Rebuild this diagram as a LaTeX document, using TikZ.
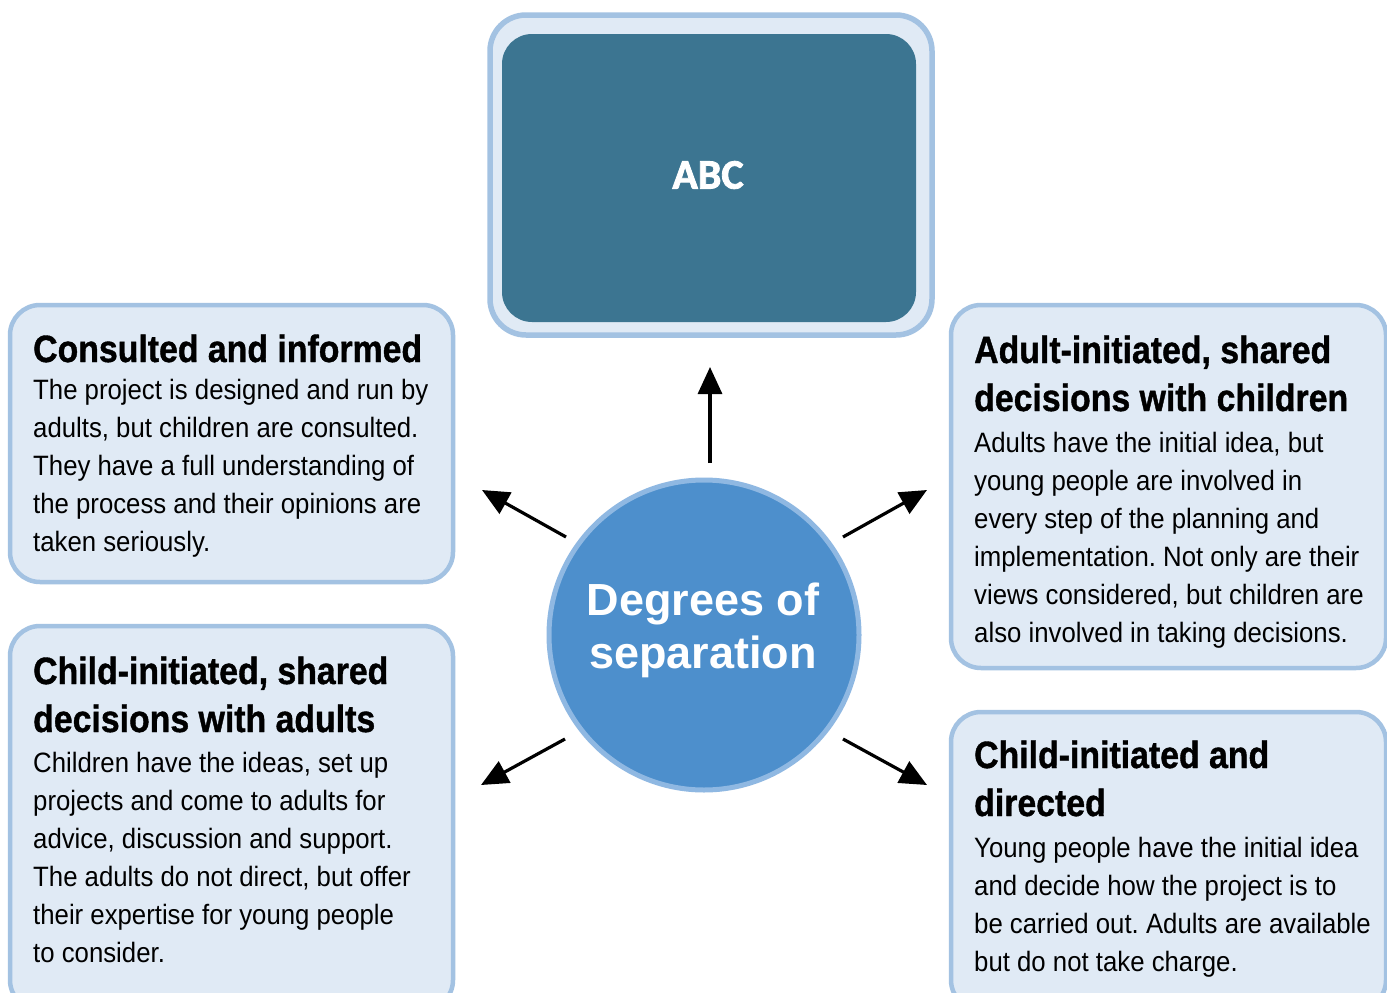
\documentclass[tikz,border=0pt]{standalone}
\usepackage{fontspec}
\setmainfont{Liberation Sans}
\newfontfamily\condfont{Liberation Sans}[FakeStretch=0.92]
\newfontfamily\titlefont{Liberation Sans Bold}[FakeStretch=0.89, FakeBold=1]
\newfontfamily\abcfont{Carlito Bold}[FakeBold=2]
\usetikzlibrary{arrows.meta}
\definecolor{boxfill}{HTML}{E0EAF5}
\definecolor{boxline}{HTML}{A3C2E2}
\definecolor{darkbox}{HTML}{3C7591}
\definecolor{circfill}{HTML}{4D8FCC}
\definecolor{circline}{HTML}{8FB8E2}
\frenchspacing
\begin{document}
\begin{tikzpicture}[x=1pt,y=-1pt,
  panel/.style={draw=boxline, fill=boxfill, line width=4.5pt, rounded corners=30pt, rectangle, inner sep=0pt},
  ttl/.style={anchor=base west, inner sep=0pt, align=left, font=\titlefont\fontsize{38}{48}\selectfont},
  bdy/.style={anchor=base west, inner sep=0pt, align=left, font=\condfont\fontsize{28}{38}\selectfont},
  arr/.style={-{Triangle[length=27pt,width=24pt]}, line width=3.2pt, black}]
\fill[white] (0,0) rectangle (1387,993);
\useasboundingbox (0,0) rectangle (1387,993);
\clip (0,0) rectangle (1387,993);

% top box
\node[panel, line width=5.5pt, rounded corners=36pt, minimum width=442pt, minimum height=320pt] (top) at (711,175) {};
\node[fill=darkbox, rounded corners=30pt, minimum width=414pt, minimum height=288pt, inner sep=0pt] (topin) at (709,178) {};
\node[text=white, font=\abcfont\fontsize{42}{48}\selectfont, inner sep=0pt] (abc) at (708,175) {ABC};

% panels
\node[panel, minimum width=443pt, minimum height=277pt] (lt) at (231.5,443.5) {};
\node[panel, minimum width=435pt, minimum height=363pt] (rt) at (1168.5,486.5) {};
\node[panel, minimum width=443pt, minimum height=384pt] (lb) at (231.5,818) {};
\node[panel, minimum width=435pt, minimum height=298pt] (rb) at (1168.5,861) {};

% circle
\node[circle, draw=circline, fill=circfill, line width=5pt, minimum size=310pt, inner sep=0pt] (circ) at (704,635) {};
\node[anchor=base, align=center, text=white, inner sep=0pt, font=\bfseries\fontsize{45}{53}\selectfont] (ctext) at (703,668) {Degrees of\\separation};

% texts (anchor = baseline of the last line)
\node[ttl] (ltt) at (33,362) {Consulted and informed};
\node[bdy] (ltb) at (33,551) {The project is designed and run by\\adults, but children are consulted.\\They have a full understanding of\\the process and their opinions are\\taken seriously.};

\node[ttl] (rtt) at (974,411) {Adult-initiated, shared\\decisions with children};
\node[bdy] (rtb) at (974,642) {Adults have the initial idea, but\\young people are involved in\\every step of the planning and\\implementation. Not only are their\\views considered, but children are\\also involved in taking decisions.};

\node[ttl] (lbt) at (33,732) {Child-initiated, shared\\decisions with adults};
\node[bdy] (lbb) at (33,962) {Children have the ideas, set up\\projects and come to adults for\\advice, discussion and support.\\The adults do not direct, but offer\\their expertise for young people\\to consider.};

\node[ttl] (rbt) at (974,816) {Child-initiated and\\directed};
\node[bdy] (rbb) at (974,971) {Young people have the initial idea\\and decide how the project is to\\be carried out. Adults are available\\but do not take charge.};

% arrows
\coordinate (s1) at (710,463); \coordinate (e1) at (710,367);
\coordinate (s2) at (566,537); \coordinate (e2) at (482,490);
\coordinate (s3) at (843,537); \coordinate (e3) at (927,490);
\coordinate (s4) at (565,739); \coordinate (e4) at (481,785);
\coordinate (s5) at (843,739); \coordinate (e5) at (927,785);
\draw[arr] (s1) -- (e1);
\draw[arr] (s2) -- (e2);
\draw[arr] (s3) -- (e3);
\draw[arr] (s4) -- (e4);
\draw[arr] (s5) -- (e5);
\end{tikzpicture}
\end{document}
